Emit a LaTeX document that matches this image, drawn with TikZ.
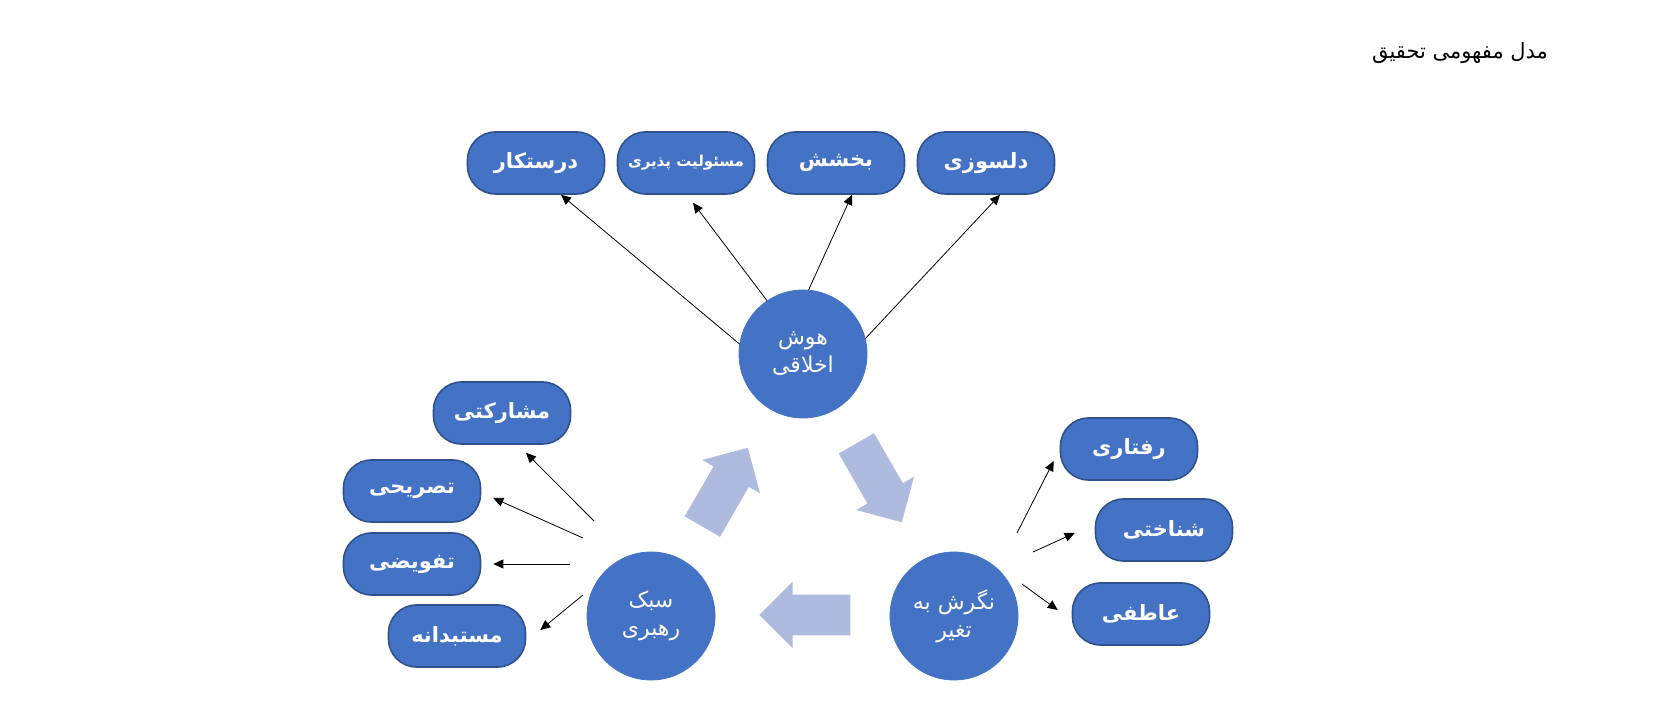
\documentclass[tikz,border=0pt]{standalone}
\usepackage{fontspec}
\newfontfamily\farsifont[Script=Arabic]{DejaVu Sans}
\TeXXeTstate=1
\usepackage{tikz}
\usetikzlibrary{arrows.meta}
\usetikzlibrary{positioning}
\usetikzlibrary{shapes.arrows}
\definecolor{boxblue}{RGB}{68,114,196}
\definecolor{boxline}{RGB}{47,82,143}
\definecolor{flowblue}{RGB}{175,187,222}
\newcommand{\fa}[1]{{\farsifont\beginR #1\endR}}

\begin{document}
\begin{tikzpicture}[x=0.5pt,y=-0.5pt,>={Stealth[length=5pt,width=4.5pt,inset=0pt]},thin,node distance=75pt,
	box node/.style={rectangle,rounded corners=14pt,draw=boxline,line width=0.8pt,fill=boxblue,
		text=white,minimum width=68.5pt,minimum height=31pt,inner sep=2pt,font=\bfseries\fontsize{10.5}{12}\selectfont},
	main node/.style={circle,draw=boxblue,fill=boxblue,text=white,minimum size=64pt,inner sep=0pt,
		align=center,font=\fontsize{11}{14}\selectfont},
	flow arrow/.style={single arrow,fill=flowblue,draw=none,inner xsep=0pt,inner ysep=10pt,minimum height=45.5pt,
		single arrow head extend=6.5pt}]
	
	\useasboundingbox (0,0) rectangle (1661,704);
	
	\node (title) at (1460,53) {\fontsize{10.5}{12}\selectfont\fa{مدل مفهومی تحقیق}};
	
	% top row
	\node[box node] (dorost) at (536,163) {\fa{درستکار}};
	\node[box node] (masool) [right of=dorost] {\fontsize{7.5}{9}\selectfont\fa{مسئولیت پذیری}};
	\node[box node] (bakhshesh) [right of=masool] {\fa{بخشش}};
	\node[box node] (delsoozi) [right of=bakhshesh] {\fa{دلسوزی}};
	
	% circles
	\node[main node] (hoosh) at (803,354) {\fa{هوش}\\\fa{اخلاقی}};
	\node[main node] (sabk) at (651,616) {\fa{سبک}\\\fa{رهبری}};
	\node[main node] (negaresh) at (954,616) {\fa{نگرش به}\\\fa{تغیر}};
	
	% left boxes
	\node[box node] (mosharekati) at (502,413) {\fa{مشارکتی}};
	\node[box node] (tasrihi) at (412,491) {\fa{تصریحی}};
	\node[box node] (tafvizi) at (412,564) {\fa{تفویضی}};
	\node[box node] (mostabed) at (457,636) {\fa{مستبدانه}};
	
	% right boxes
	\node[box node] (raftari) at (1129,449) {\fa{رفتاری}};
	\node[box node] (shenakhti) at (1164,530) {\fa{شناختی}};
	\node[box node] (atefi) at (1141,614) {\fa{عاطفی}};
	
	% flow arrows
	\node[flow arrow,rotate=60] (up) at (720,496) {};
	\node[flow arrow,rotate=-60] (down) at (874,474) {};
	\node[flow arrow,rotate=180] (back) at (815,615) {};
	
	\coordinate (s1) at (594,521);
	\coordinate (s2) at (583,538);
	\coordinate (s3) at (570,564);
	\coordinate (s4) at (583,595);
	\coordinate (n1) at (1017,533);
	\coordinate (n2) at (1033,552);
	\coordinate (n3) at (1022,584);
	
	\draw[->] (hoosh.171) -- ([xshift=12.5pt]dorost.south);
	\draw[->] (hoosh.124) -- ([xshift=3.5pt,yshift=-4pt]masool.south);
	\draw[->] (hoosh.85) -- ([xshift=8pt]bakhshesh.south);
	\draw[->] (hoosh.14) -- ([xshift=7pt]delsoozi.south);
	
	\draw[->] (s1) -- ([xshift=12pt,yshift=-4pt]mosharekati.south);
	\draw[->] (s2) -- ([xshift=6pt,yshift=-3.5pt]tasrihi.east);
	\draw[->] (s3) -- ([xshift=6pt]tafvizi.east);
	\draw[->] (s4) -- ([xshift=7pt,yshift=3pt]mostabed.east);
	
	\draw[->] (n1) -- ([xshift=-3pt,yshift=-6pt]raftari.west);
	\draw[->] (n2) -- ([xshift=-10pt,yshift=-1.5pt]shenakhti.west);
	\draw[->] (n3) -- ([xshift=-7pt,yshift=2pt]atefi.west);
\end{tikzpicture}
\end{document}
